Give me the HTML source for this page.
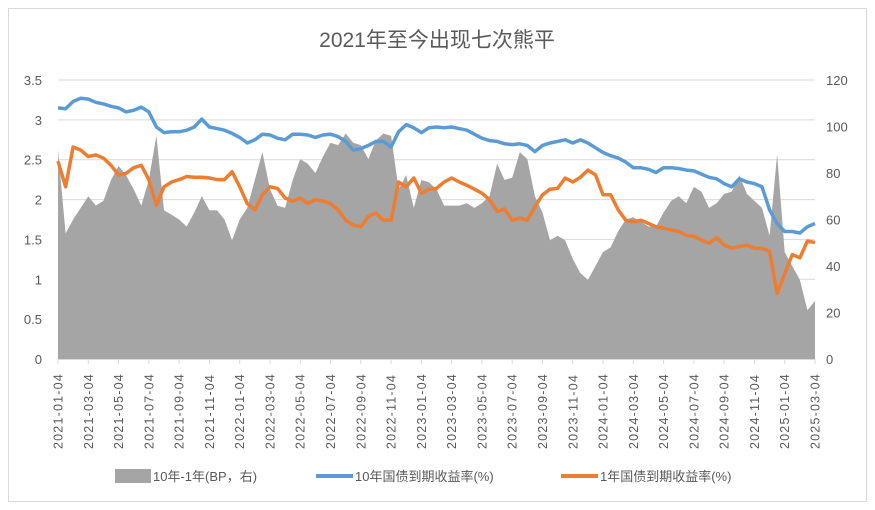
<!DOCTYPE html>
<html><head><meta charset="utf-8">
<style>
html,body{margin:0;padding:0;background:#fff;width:875px;height:510px;overflow:hidden;}
svg{display:block;font-family:"Liberation Sans","Noto Sans CJK SC",sans-serif;}
</style></head>
<body>
<svg id="chart" width="875" height="510" viewBox="0 0 875 510">
<rect x="8.5" y="8.5" width="858" height="493" fill="#fff" stroke="#d9d9d9"/>
<text x="437" y="47" text-anchor="middle" font-size="21" fill="#595959">2021年至今出现七次熊平</text>
<g id="grid"></g>
<g id="area"></g>
<g id="lines"></g>
<g id="axes"></g>
<g id="legend" font-size="13" fill="#595959">
 <rect x="115" y="469" width="36" height="14" fill="#a5a5a5"/>
 <text x="153" y="481">10年-1年(BP，右)</text>
 <line x1="316" y1="476" x2="353" y2="476" stroke="#5b9bd5" stroke-width="4"/>
 <text x="355" y="481">10年国债到期收益率(%)</text>
 <line x1="561" y1="476" x2="598" y2="476" stroke="#ed7d31" stroke-width="4"/>
 <text x="600" y="481">1年国债到期收益率(%)</text>
</g>
</svg>
<script>
const xLabels = ["2021-01-04","2021-03-04","2021-05-04","2021-07-04","2021-09-04","2021-11-04","2022-01-04","2022-03-04","2022-05-04","2022-07-04","2022-09-04","2022-11-04","2023-01-04","2023-03-04","2023-05-04","2023-07-04","2023-09-04","2023-11-04","2024-01-04","2024-03-04","2024-05-04","2024-07-04","2024-09-04","2024-11-04","2025-01-04","2025-03-04"];
const leftTicks = [0,0.5,1,1.5,2,2.5,3,3.5];
const rightTicks = [0,20,40,60,80,100,120];
const yield10y = [3.15,3.14,3.23,3.27,3.26,3.22,3.20,3.17,3.15,3.10,3.12,3.16,3.10,2.91,2.84,2.85,2.85,2.87,2.91,3.01,2.91,2.89,2.87,2.83,2.78,2.71,2.75,2.82,2.81,2.77,2.75,2.82,2.82,2.81,2.78,2.81,2.82,2.79,2.73,2.62,2.64,2.68,2.73,2.73,2.66,2.85,2.94,2.90,2.84,2.90,2.91,2.90,2.91,2.89,2.87,2.82,2.77,2.74,2.73,2.70,2.69,2.70,2.68,2.60,2.68,2.71,2.73,2.75,2.71,2.75,2.71,2.65,2.59,2.55,2.52,2.47,2.40,2.40,2.38,2.34,2.40,2.40,2.39,2.37,2.36,2.32,2.28,2.26,2.20,2.16,2.26,2.22,2.20,2.16,1.87,1.70,1.60,1.60,1.58,1.66,1.70];
const yield1y = [2.48,2.16,2.66,2.62,2.54,2.56,2.52,2.43,2.31,2.33,2.40,2.43,2.25,1.93,2.16,2.22,2.25,2.29,2.28,2.28,2.27,2.25,2.25,2.35,2.16,1.95,1.87,2.06,2.16,2.14,2.02,1.98,2.02,1.95,2.00,1.98,1.95,1.87,1.74,1.68,1.66,1.79,1.83,1.74,1.74,2.22,2.16,2.27,2.08,2.13,2.14,2.22,2.27,2.22,2.18,2.13,2.08,2.00,1.85,1.88,1.74,1.77,1.74,1.91,2.06,2.13,2.14,2.27,2.22,2.28,2.37,2.31,2.06,2.06,1.87,1.74,1.72,1.74,1.70,1.66,1.64,1.62,1.60,1.55,1.54,1.49,1.45,1.52,1.43,1.39,1.41,1.43,1.39,1.39,1.35,0.82,1.07,1.31,1.27,1.48,1.46];
const spreadBp = [90,54,60,65,70,66,68,77,83,79,73,66,77,96,64,62,60,57,63,70,64,64,60,51,60,65,77,89,73,66,65,77,86,84,80,87,93,92,97,93,92,86,94,97,96,73,79,65,77,76,73,66,66,66,67,65,67,70,84,77,78,89,86,70,63,51,53,51,43,37,34,40,46,48,55,60,61,59,57,57,63,68,70,67,74,72,65,67,71,72,79,71,68,65,53,88,46,40,34,21,25];

const X0=58, X1=815, Y0=359, Y1=80;
const NS="http://www.w3.org/2000/svg";
const n = yield10y.length;
function xPos(i){return X0+(X1-X0)*i/(n-1);}
function yL(v){return Y0-(Y0-Y1)*v/3.5;}
function yR(v){return Y0-(Y0-Y1)*v/120;}
function mk(tag,attrs,parent){const e=document.createElementNS(NS,tag);for(const k in attrs)e.setAttribute(k,attrs[k]);parent.appendChild(e);return e;}

const grid=document.getElementById('grid'), axes=document.getElementById('axes');
leftTicks.forEach(t=>{
  const g=mk('line',{x1:X0,x2:X1,y1:yL(t),y2:yL(t),stroke:'#d9d9d9','stroke-width':1},grid);
  
  
  const tx=mk('text',{x:42,y:yL(t)+5,'text-anchor':'end','font-size':13,fill:'#595959'},axes);
  tx.textContent=String(t);
  
  
});
rightTicks.forEach(t=>{
  const tx=mk('text',{x:826,y:yR(t)+5,'font-size':13,fill:'#595959'},axes);
  tx.textContent=String(t);
  
  
});
const xa=mk('line',{x1:X0,x2:X1,y1:Y0+0.5,y2:Y0+0.5,stroke:'#d9d9d9','stroke-width':1},axes);


xLabels.forEach((l,i)=>{
  const x=X0+(X1-X0)*i/(xLabels.length-1);
  const tk=mk('line',{x1:x,x2:x,y1:Y0,y2:Y0+5,stroke:'#d9d9d9'},axes);
  
  
  const tx=mk('text',{transform:`translate(${x+4.5},449) rotate(-90)`,'font-size':12.5,fill:'#595959','letter-spacing':'1.2'},axes);
  tx.textContent=l;
  
  
});

let d=`M${xPos(0)},${Y0}`;
spreadBp.forEach((v,i)=>{d+=` L${xPos(i).toFixed(1)},${yR(v).toFixed(1)}`;});
d+=` L${xPos(n-1)},${Y0} Z`;
const ar=mk('path',{d:d,fill:'#a5a5a5'},document.getElementById('area'));



function line(arr,color,name){
  const p=arr.map((v,i)=>`${xPos(i).toFixed(1)},${yL(v).toFixed(1)}`).join(' ');
  const e=mk('polyline',{points:p,fill:'none',stroke:color,'stroke-width':3.5,'stroke-linejoin':'round'},document.getElementById('lines'));
  
  
}
line(yield10y,'#5b9bd5','line-10y-yield');
line(yield1y,'#ed7d31','line-1y-yield');
</script>
</body></html>
